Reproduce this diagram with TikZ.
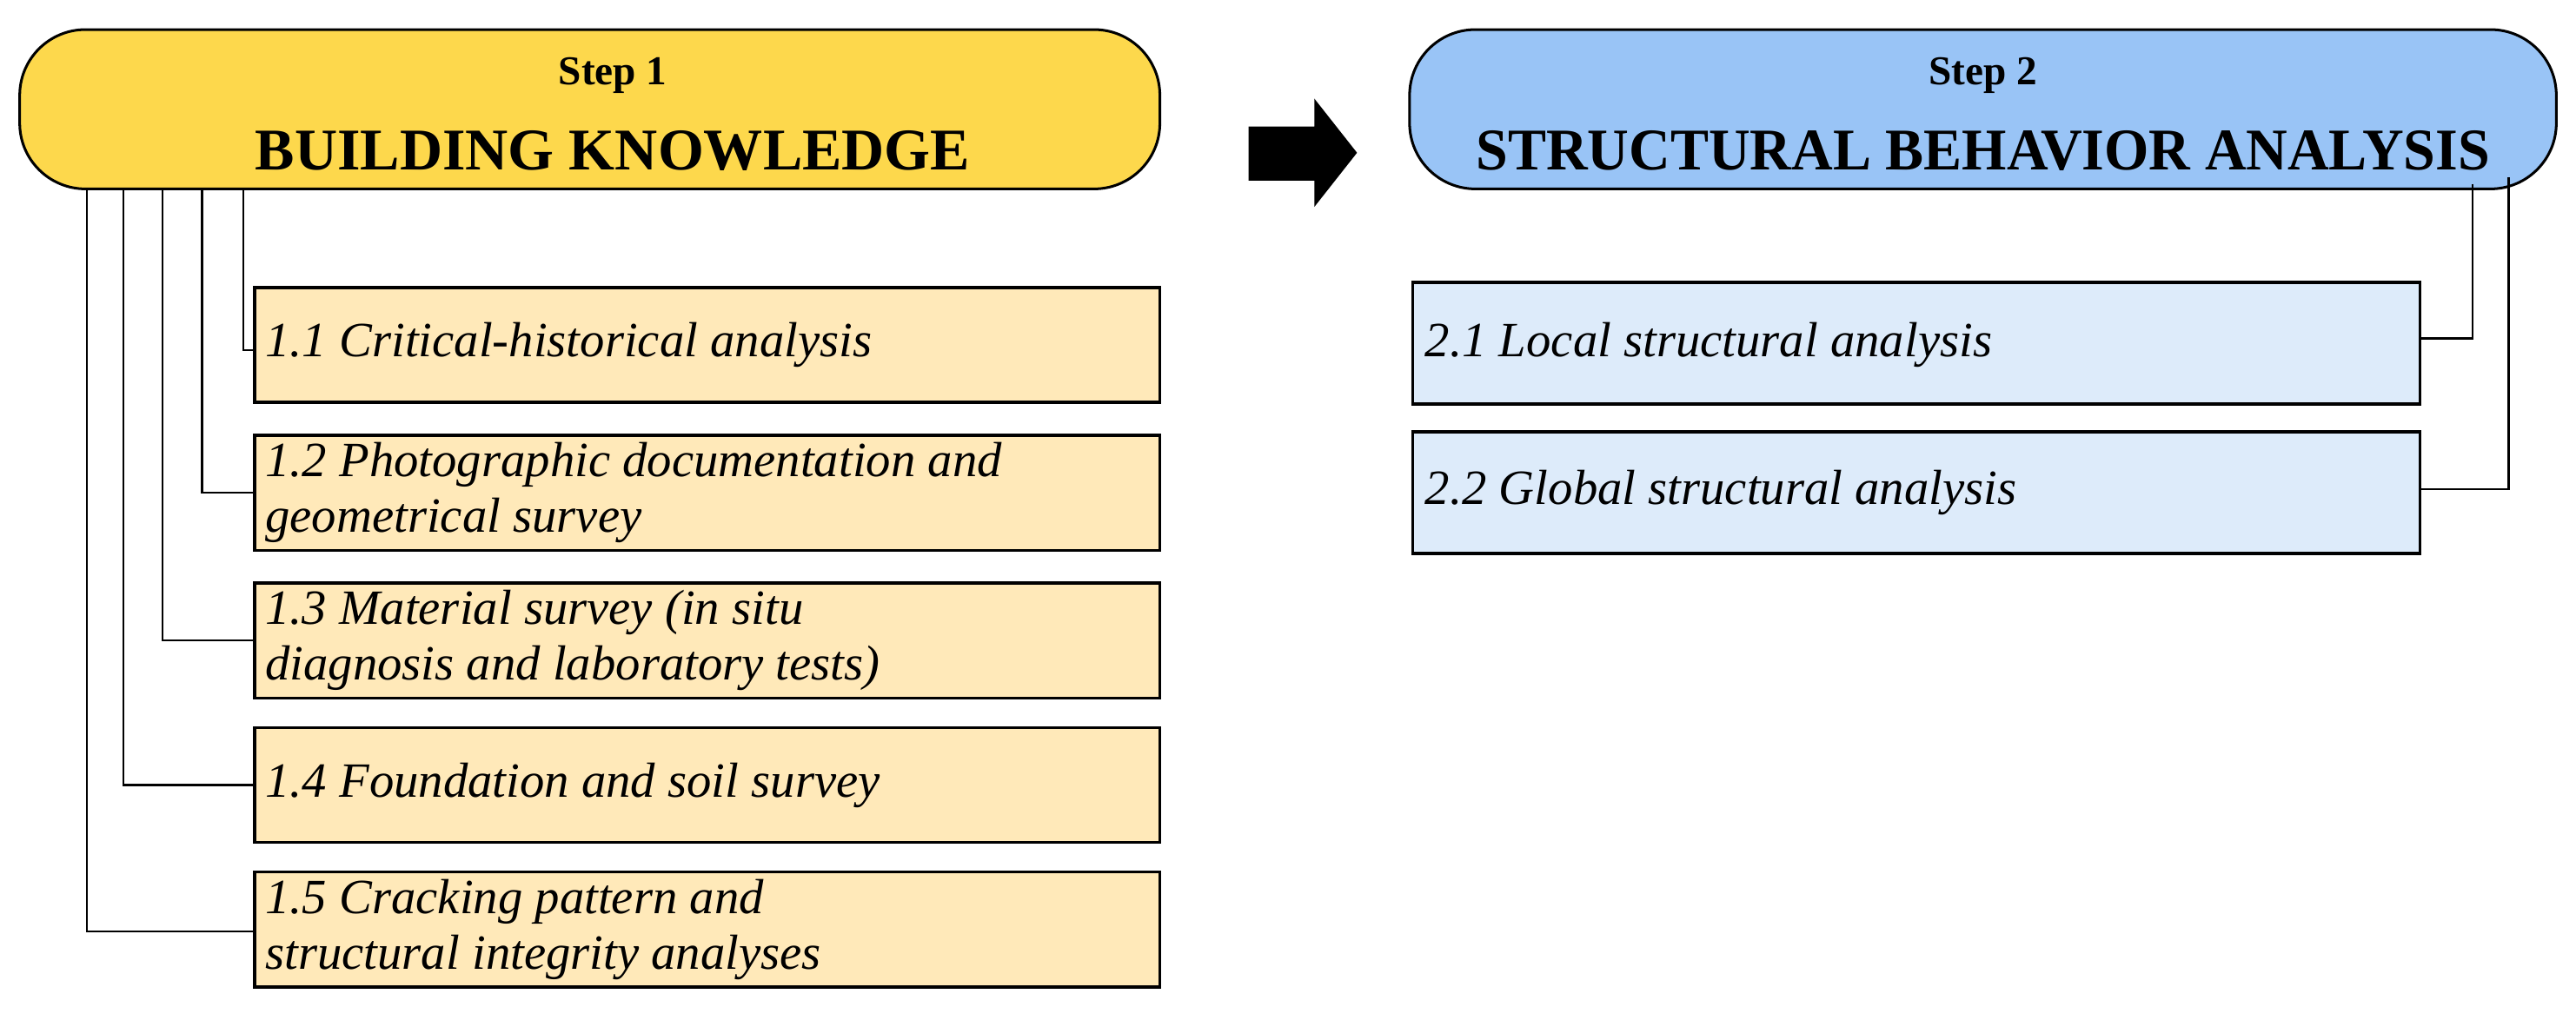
\documentclass[tikz,border=0pt]{standalone}
\usepackage{fontspec}
\setmainfont{Liberation Serif}
\begin{document}
\begin{tikzpicture}[x=1pt,y=-1pt,
 hdr/.style={draw=black,line width=1.6pt,rounded corners=40pt,align=center,font=\bfseries},
 yb/.style={draw=black,line width=1.8pt,fill=yitem},
 bb/.style={draw=black,line width=1.8pt,fill=bitem},
 txt/.style={anchor=west,align=left,font=\fontsize{30}{34}\selectfont\itshape},
 con/.style={line width=1.2pt}]
\definecolor{yhead}{HTML}{FDD84C}
\definecolor{yitem}{HTML}{FFE9B9}
\definecolor{bhead}{HTML}{99C4F6}
\definecolor{bitem}{HTML}{DDEBFA}
\useasboundingbox (0,0) rectangle (1568,625);
% headers
\draw[hdr,fill=yhead] (12,18) rectangle (706,115);
\node[font=\fontsize{25}{28}\selectfont\bfseries] (s1) at (373,46) {Step 1};
\node[font=\fontsize{36}{40}\selectfont\bfseries] (h1) at (373,92) {BUILDING KNOWLEDGE};
\draw[hdr,fill=bhead] (858,18) rectangle (1556,115);
\node[font=\fontsize{25}{28}\selectfont\bfseries] (s2) at (1207,46) {Step 2};
\node[font=\fontsize{36}{40}\selectfont\bfseries,xscale=0.97] (h2) at (1207,92) {STRUCTURAL BEHAVIOR ANALYSIS};
% arrow
\fill (760,77) -- (800,77) -- (800,60) -- (826,93) -- (800,126) -- (800,110) -- (760,110) -- cycle;
% yellow items
\draw[yb] (155,175) rectangle (706,245); \node[txt] (a1) at (158,210) {1.1 Critical-historical analysis};
\draw[yb] (155,265) rectangle (706,335); \node[txt] (a2) at (158,300) {1.2 Photographic documentation and\\geometrical survey};
\draw[yb] (155,355) rectangle (706,425); \node[txt] (a3) at (158,390) {1.3 Material survey (in situ\\diagnosis and laboratory tests)};
\draw[yb] (155,443) rectangle (706,513); \node[txt] (a4) at (158,478) {1.4 Foundation and soil survey};
\draw[yb] (155,531) rectangle (706,601); \node[txt] (a5) at (158,566) {1.5 Cracking pattern and\\structural integrity analyses};
\draw[con] (148,115) |- (155,213);
\draw[con] (123,115) |- (155,300);
\draw[con] (99,115) |- (155,390);
\draw[con] (75,115) |- (155,478);
\draw[con] (53,115) |- (155,567);
% blue items
\draw[bb] (860,172) rectangle (1473,246); \node[txt] (b1) at (864,210) {2.1 Local structural analysis};
\draw[bb] (860,263) rectangle (1473,337); \node[txt] (b2) at (864,300) {2.2 Global structural analysis};
\draw[con] (1505,112) |- (1473,206);
\draw[con] (1527,108) |- (1473,298);
\end{tikzpicture}
\end{document}
